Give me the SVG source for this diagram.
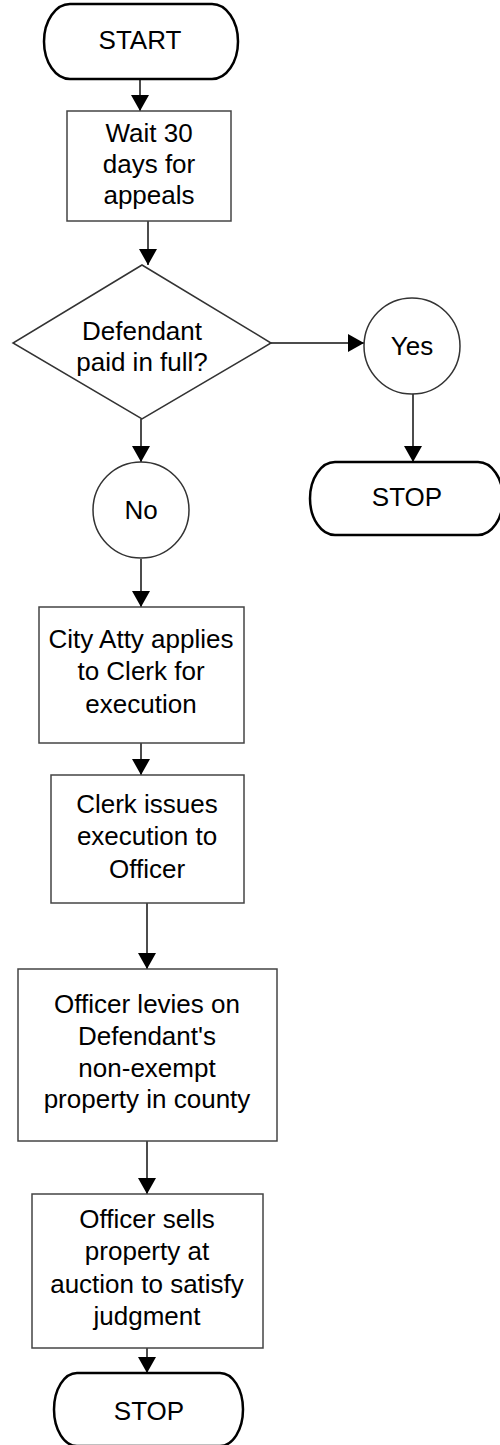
<svg xmlns="http://www.w3.org/2000/svg" width="500" height="1445" viewBox="0 0 500 1445">
  <defs>
    <marker id="arrow" markerUnits="userSpaceOnUse" markerWidth="18" markerHeight="20" refX="16" refY="9" orient="auto">
      <path d="M0,0 L16,9 L0,18 Z" fill="#000"/>
    </marker>
    <style>
      .term { fill: #fff; stroke: #000; stroke-width: 2.5; }
      .box { fill: #fff; stroke: #444; stroke-width: 1.5; }
      .shape { fill: #fff; stroke: #333; stroke-width: 1.5; }
      .edge { fill: none; stroke: #111; stroke-width: 1.5; marker-end: url(#arrow); }
      text { font-family: "Liberation Sans", Arial, sans-serif; font-size: 26px; fill: #000; text-anchor: middle; }
    </style>
  </defs>
  <rect width="500" height="1445" fill="#fff"/>

  <g id="connectors">
    <line class="edge" x1="140" y1="79" x2="140" y2="111"/>
    <line class="edge" x1="148" y1="221" x2="148" y2="265"/>
    <line class="edge" x1="271" y1="343" x2="364" y2="343"/>
    <line class="edge" x1="413" y1="394" x2="413" y2="462"/>
    <line class="edge" x1="141" y1="419" x2="141" y2="462"/>
    <line class="edge" x1="141" y1="559" x2="141" y2="607"/>
    <line class="edge" x1="141" y1="743" x2="141" y2="775"/>
    <line class="edge" x1="147" y1="903" x2="147" y2="969"/>
    <line class="edge" x1="147" y1="1141" x2="147" y2="1194"/>
    <line class="edge" x1="147" y1="1348" x2="147" y2="1373"/>
  </g>

  <g id="start">
    <path class="term" d="M70,4 H212 A26,37.5 0 0 1 212,79 H70 A26,37.5 0 0 1 70,4 Z"/>
    <text x="140" y="49">START</text>
  </g>

  <g id="wait">
    <rect class="box" x="67" y="111" width="164" height="110"/>
    <text x="149" y="142">Wait 30</text>
    <text x="149" y="173">days for</text>
    <text x="149" y="204">appeals</text>
  </g>

  <g id="decision">
    <polygon class="shape" points="142,265 271,343 142,419 13,343"/>
    <text x="142" y="340">Defendant</text>
    <text x="142" y="371">paid in full?</text>
  </g>

  <g id="yes">
    <circle class="shape" cx="412" cy="346" r="48"/>
    <text x="412" y="355">Yes</text>
  </g>

  <g id="stop-yes">
    <path class="term" d="M335,462 H478 A25,36.5 0 0 1 478,535 H335 A25,36.5 0 0 1 335,462 Z"/>
    <text x="407" y="506">STOP</text>
  </g>

  <g id="no">
    <circle class="shape" cx="141" cy="510" r="48"/>
    <text x="141" y="519">No</text>
  </g>

  <g id="apply">
    <rect class="box" x="39" y="607" width="205" height="136"/>
    <text x="141" y="648">City Atty applies</text>
    <text x="141" y="680">to Clerk for</text>
    <text x="141" y="713">execution</text>
  </g>

  <g id="issue">
    <rect class="box" x="51" y="775" width="193" height="128"/>
    <text x="147" y="813">Clerk issues</text>
    <text x="147" y="845">execution to</text>
    <text x="147" y="878">Officer</text>
  </g>

  <g id="levy">
    <rect class="box" x="18" y="969" width="259" height="172"/>
    <text x="147" y="1013">Officer levies on</text>
    <text x="147" y="1045">Defendant's</text>
    <text x="147" y="1077">non-exempt</text>
    <text x="147" y="1108">property in county</text>
  </g>

  <g id="sell">
    <rect class="box" x="32" y="1194" width="231" height="154"/>
    <text x="147" y="1228">Officer sells</text>
    <text x="147" y="1260">property at</text>
    <text x="147" y="1293">auction to satisfy</text>
    <text x="147" y="1325">judgment</text>
  </g>

  <g id="stop-end">
    <path class="term" d="M77,1373 H220 A23,36.5 0 0 1 220,1446 H77 A23,36.5 0 0 1 77,1373 Z"/>
    <text x="149" y="1420">STOP</text>
  </g>
</svg>
